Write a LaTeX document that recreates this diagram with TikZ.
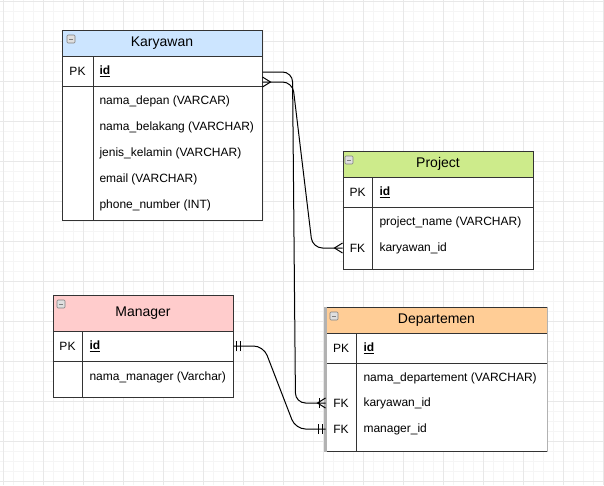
\documentclass[tikz,border=0pt]{standalone}
\usepackage{fontspec}
\setmainfont{Liberation Sans}
\usepackage{tikz}
\definecolor{karyblue}{HTML}{CCE5FF}
\definecolor{projgreen}{HTML}{CDEB8B}
\definecolor{mgrpink}{HTML}{FFCCCC}
\definecolor{deptorange}{HTML}{FFCD96}
\definecolor{gridminor}{HTML}{F5F5F5}
\definecolor{gridmajor}{HTML}{E8E8E8}
\definecolor{boxline}{HTML}{333333}
\usetikzlibrary{decorations.markings}

\begin{document}
\begin{tikzpicture}[x=1pt,y=-1pt,line width=1pt,
    tbl/.style={draw=boxline, fill=white, inner sep=0pt},
    head/.style={draw=boxline, inner sep=0pt, anchor=north, font=\fontsize{14}{16}\selectfont},
    key/.style={inner sep=0pt, font=\fontsize{12}{14}\selectfont},
    fld/.style={inner sep=0pt, anchor=west, font=\fontsize{12}{14}\selectfont},
    minus/.style={draw=gray, fill=gray!25, rounded corners=1pt, minimum size=8pt, inner sep=0pt, line width=0.6pt,
        path picture={\draw[line width=1pt] ([xshift=2pt]path picture bounding box.west) -- ([xshift=-2pt]path picture bounding box.east);}},
    rel/.style={draw=black, line width=1pt, rounded corners=10pt},
    crowstart/.style={postaction={decorate, decoration={markings,
        mark=at position 0 with {\draw[sharp corners] (0,5pt) -- (8pt,0) -- (0,-5pt);}}}},
    crowend/.style={postaction={decorate, decoration={markings,
        mark=at position 1 with {\draw[sharp corners] (0,5pt) -- (-8pt,0) -- (0,-5pt);}}}},
    onecrowend/.style={postaction={decorate, decoration={markings,
        mark=at position 1 with {\draw[sharp corners] (0,5pt) -- (-8pt,0) -- (0,-5pt); \draw (-6pt,5pt) -- (-6pt,-5pt);}}}},
    onlyonestart/.style={postaction={decorate, decoration={markings,
        mark=at position 0 with {\draw (3pt,5pt) -- (3pt,-5pt); \draw (7pt,5pt) -- (7pt,-5pt);}}}},
    onlyoneend/.style={postaction={decorate, decoration={markings,
        mark=at position 1 with {\draw (-3pt,5pt) -- (-3pt,-5pt); \draw (-7pt,5pt) -- (-7pt,-5pt);}}}}
]
\useasboundingbox (0,0) rectangle (604,485);
\fill[white] (0,0) rectangle (604,485);

% grid
\begin{scope}[shift={(3,1)}]
\draw[gridminor, line width=0.7pt, step=10pt] (-3,-1) grid (601,484);
\draw[gridmajor, line width=0.8pt, step=40pt] (-3,-1) grid (601,484);
\end{scope}

% Karyawan
\node[tbl, minimum width=200, minimum height=190] (kary) at (162,125) {};
\node[head, fill=karyblue, minimum width=200, minimum height=26] (karyHead) at (kary.north) {Karyawan};
\node[minus] at (71,39) {};
\draw[boxline] (kary.west |- 0,86) -- (kary.east |- 0,86);
\draw[boxline] (93,56) -- (93,220);
\node[key] (karyPK) at (77.5,71) {PK};
\node[fld] (karyId) at (99,71) {\textbf{\underline{id}}};
\node[fld] (karyDepan) at (99,101) {nama\_depan (VARCAR)};
\node[fld] (karyBelakang) at (99,127) {nama\_belakang (VARCHAR)};
\node[fld] (karyJenis) at (99,153) {jenis\_kelamin (VARCHAR)};
\node[fld] (karyEmail) at (99,179) {email (VARCHAR)};
\node[fld] (karyPhone) at (99,205) {phone\_number (INT)};

% Project
\node[tbl, minimum width=190, minimum height=118] (proj) at (438,210) {};
\node[head, fill=projgreen, minimum width=190, minimum height=26] (projHead) at (proj.north) {Project};
\node[minus] at (349,160) {};
\draw[boxline] (proj.west |- 0,207) -- (proj.east |- 0,207);
\draw[boxline] (372,177) -- (372,269);
\node[key] (projPK) at (357.5,192) {PK};
\node[fld] (projId) at (379,192) {\textbf{\underline{id}}};
\node[fld] (projName) at (379,222) {project\_name (VARCHAR)};
\node[key] (projFK) at (357.5,248) {FK};
\node[fld] (projKid) at (379,248) {karyawan\_id};

% Manager
\node[tbl, minimum width=180, minimum height=102] (mgr) at (143,346) {};
\node[head, fill=mgrpink, minimum width=180, minimum height=36] (mgrHead) at (mgr.north) {Manager};
\node[minus] at (61,304) {};
\draw[boxline] (mgr.west |- 0,361) -- (mgr.east |- 0,361);
\draw[boxline] (82,331) -- (82,397);
\node[key] (mgrPK) at (67.5,346) {PK};
\node[fld] (mgrId) at (89,346) {\textbf{\underline{id}}};
\node[fld] (mgrName) at (89,377) {nama\_manager (Varchar)};

% Departemen
\node[tbl, minimum width=221, minimum height=144] (dept) at (436.5,379) {};
\node[head, fill=deptorange, minimum width=221, minimum height=26] (deptHead) at (dept.north) {Departemen};
\node[minus] at (334,316) {};
\draw[boxline] (dept.west |- 0,363) -- (dept.east |- 0,363);
\draw[boxline] (356,333) -- (356,451);
\draw[gray!60, line width=2.5pt] (dept.north west) -- (dept.south west);
\draw[gray!60, line width=1.5pt] (dept.north east) -- (dept.south east);
\node[key] (deptPK) at (341,348) {PK};
\node[fld] (deptId) at (363,348) {\textbf{\underline{id}}};
\node[fld] (deptName) at (363,378) {nama\_departement (VARCHAR)};
\node[key] (deptFK1) at (341,403) {FK};
\node[fld] (deptKid) at (363,403) {karyawan\_id};
\node[key] (deptFK2) at (341,429) {FK};
\node[fld] (deptMid) at (363,429) {manager\_id};

% relations
\draw[rel, onecrowend] ([yshift=-1pt]kary.east |- karyId) -- ++(30,0)
    -- ([xshift=-30pt]dept.west |- deptKid) -- (dept.west |- deptKid);
\draw[rel, crowstart, crowend] ([yshift=-11pt]kary.east |- karyId) -- ++(30,0)
    -- ([xshift=-30pt]proj.west |- projKid) -- (proj.west |- projKid);
\draw[rel, onlyonestart, onlyoneend] (mgr.east |- mgrId) -- ++(30,0)
    -- ([xshift=-30pt]dept.west |- deptMid) -- (dept.west |- deptMid);
\end{tikzpicture}
\end{document}
